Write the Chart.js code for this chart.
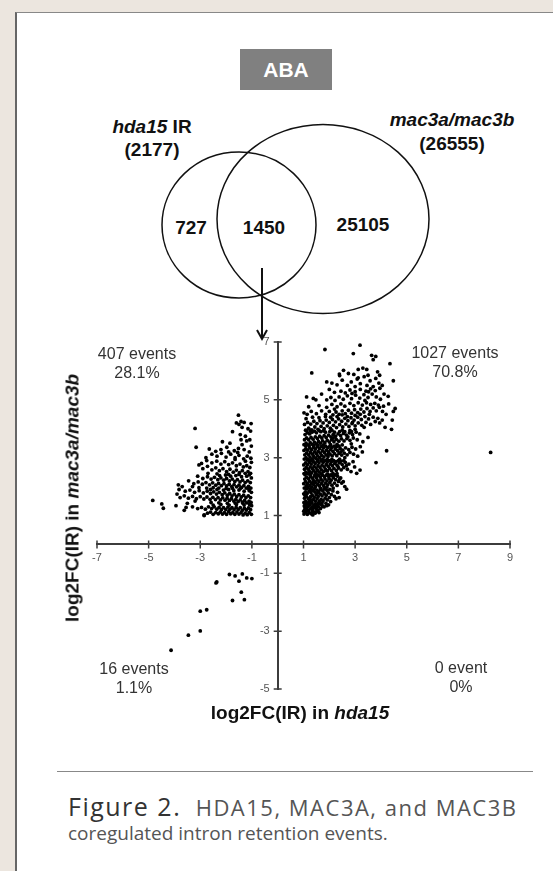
<!DOCTYPE html>
<html>
<head>
<meta charset="utf-8">
<script src="https://cdn.jsdelivr.net/npm/chart.js@4.4.0/dist/chart.umd.min.js"></script>
<style>
  html, body { margin: 0; padding: 0; }
  body { width: 553px; height: 871px; background: #ece6df; position: relative; overflow: hidden;
         font-family: "Liberation Sans", Arial, sans-serif; color: #111; }
  #panel { position: absolute; left: 15px; top: 12px; width: 600px; height: 900px; background: #fff;
           border-left: 2px solid #666; border-top: 1px solid #888; }
  .t { position: absolute; transform: translate(-50%, -50%); white-space: nowrap; line-height: 1; }
  .venn { font-weight: bold; font-size: 19px; text-align: center; }
  .note { font-size: 16px; color: #333; text-align: center; line-height: 19px; }
  .axt { font-weight: bold; font-size: 19px; }
  #aba { position: absolute; left: 240px; top: 49px; width: 92px; height: 41px; background: #808080;
         color: #fff; font-weight: bold; font-size: 21px; line-height: 41px; text-align: center; }
  #rule { position: absolute; left: 57px; top: 771px; width: 476px; height: 0; border-top: 1px solid #888; }
  .cap { position: absolute; left: 68px; font-family: "Open Sans", sans-serif; color: #555; white-space: nowrap; line-height: 30px; }
  .cap1 { font-size: 22px; letter-spacing: 1.5px; }
  .cap2 { font-size: 19px; }
  .cap b { font-weight: normal; color: #333; font-size: 25px; letter-spacing: 1.5px; }
  #wrap { position: absolute; left: 0; top: 320px; width: 553px; height: 420px; }
</style>
</head>
<body>
<div id="panel"></div>

<div id="aba">ABA</div>
<svg width="553" height="345" style="position:absolute;left:0;top:0">
  <ellipse cx="239" cy="225" rx="77" ry="73" fill="none" stroke="#111" stroke-width="1.5"/>
  <ellipse cx="323" cy="219" rx="106" ry="94.5" fill="none" stroke="#111" stroke-width="1.5"/>
  <line x1="262" y1="268" x2="262" y2="337" stroke="#111" stroke-width="2"/>
  <polyline points="257,330 262,339 267,330" fill="none" stroke="#111" stroke-width="2"/>
</svg>
<div class="t venn" style="left:152px;top:126px"><i>hda15</i> IR</div>
<div class="t venn" style="left:152px;top:149px">(2177)</div>
<div class="t venn" style="left:452px;top:119px"><i>mac3a/mac3b</i></div>
<div class="t venn" style="left:452px;top:143px">(26555)</div>
<div class="t venn" style="left:191px;top:227px">727</div>
<div class="t venn" style="left:264px;top:227px">1450</div>
<div class="t venn" style="left:363px;top:224px">25105</div>

<div id="wrap"><canvas id="scatter" width="553" height="420"></canvas></div>

<div class="t note" style="left:137px;top:363px">407 events<br>28.1%</div>
<div class="t note" style="left:455px;top:362px">1027 events<br>70.8%</div>
<div class="t note" style="left:134px;top:678px">16 events<br>1.1%</div>
<div class="t note" style="left:461px;top:677px">0 event<br>0%</div>

<div class="t axt" style="left:300px;top:712px">log2FC(IR) in <i>hda15</i></div>
<div class="t axt" style="left:72px;top:498px;transform:translate(-50%,-50%) rotate(-90deg)">log2FC(IR) in <i>mac3a/mac3b</i></div>

<div id="rule"></div>
<div class="cap cap1" style="top:791px"><b>Figure 2.</b>&nbsp; HDA15, MAC3A, and MAC3B</div>
<div class="cap cap2" style="top:818px">coregulated intron retention events.</div>

<script>
// tick positions (0 is left unlabeled on both axes)
const xTicks = [-7, -5, -3, -1, 1, 3, 5, 7, 9];
const yTicks = [-5, -3, -1, 1, 3, 5, 7];

// log2FC pairs: x (hda15), y (mac3a/mac3b)
const upperRight = [
  1.02,1.05, 1.08,1.12, 1.15,1.04, 1.22,1.1, 1.3,1.06, 1.38,1.13, 1.45,1.08, 1.52,1.15, 1.6,1.1, 1.05,1.2,
  1.12,1.26, 1.2,1.18, 1.28,1.24, 1.35,1.2, 1.42,1.28, 1.5,1.22, 1.58,1.3, 1.66,1.24, 1.74,1.32, 1.03,1.33,
  1.1,1.38, 1.18,1.31, 1.25,1.37, 1.33,1.3, 1.4,1.36, 1.47,1.4, 1.55,1.36, 1.63,1.4, 1.7,1.38, 1.8,1.3,
  1.9,1.34, 2.05,1.48, 1.01,1.15, 1.14,1.16, 1.36,1.02, 1.06,1.28, 1.24,1.45, 1.48,1.32, 1.87,1.42, 1.97,1.37,
  1.02,1.45, 1.09,1.5, 1.16,1.44, 1.23,1.52, 1.31,1.47, 1.38,1.55, 1.46,1.5, 1.53,1.58, 1.61,1.49, 1.68,1.56,
  1.76,1.51, 1.84,1.6, 1.92,1.54, 2.0,1.62, 1.04,1.6, 1.11,1.66, 1.19,1.59, 1.27,1.65, 1.34,1.7, 1.42,1.63,
  1.49,1.72, 1.57,1.66, 1.65,1.74, 1.72,1.68, 1.8,1.76, 1.88,1.7, 1.96,1.78, 2.08,1.72, 2.2,1.66, 2.32,1.8,
  1.01,1.75, 1.07,1.82, 1.14,1.76, 1.22,1.84, 1.29,1.79, 1.37,1.87, 1.44,1.81, 1.52,1.88, 1.59,1.83, 1.67,1.9,
  1.75,1.85, 1.83,1.92, 1.91,1.87, 2.02,1.9, 2.14,1.85, 2.26,1.58, 1.06,1.7, 1.26,1.56, 1.55,1.78, 2.38,1.62,
  1.03,1.95, 1.1,2.02, 1.17,1.96, 1.25,2.04, 1.32,1.98, 1.4,2.06, 1.47,2.0, 1.55,2.08, 1.62,2.02, 1.7,2.1,
  1.78,2.04, 1.86,2.12, 1.94,2.06, 2.02,2.14, 2.1,2.05, 2.2,2.12, 2.3,2.04, 1.01,2.1, 1.08,2.17, 1.15,2.11,
  1.23,2.19, 1.3,2.13, 1.38,2.21, 1.45,2.15, 1.53,2.23, 1.6,2.17, 1.68,2.25, 1.75,2.19, 1.83,2.27, 1.91,2.2,
  1.99,2.28, 2.07,2.22, 2.16,2.3, 2.25,2.24, 2.36,2.18, 2.48,2.12, 2.54,2.17, 2.67,1.91, 2.6,2.0, 1.05,2.26,
  1.12,2.32, 1.2,2.27, 1.27,2.35, 1.35,2.29, 1.42,2.37, 1.5,2.31, 1.58,2.39, 1.65,2.33, 1.73,2.4, 1.81,2.35,
  1.89,2.4, 1.97,2.36, 2.05,2.4, 2.13,2.37, 2.22,2.4, 2.32,2.36, 2.44,2.3, 1.14,2.0, 1.36,2.1, 1.9,1.98, 2.4,2.26,
  1.02,2.45, 1.09,2.5, 1.16,2.44, 1.24,2.52, 1.31,2.47, 1.39,2.55, 1.46,2.49, 1.54,2.56, 1.61,2.5, 1.69,2.58,
  1.77,2.52, 1.85,2.6, 1.93,2.54, 2.01,2.62, 2.09,2.55, 2.18,2.63, 2.27,2.56, 2.36,2.64, 2.46,2.58, 2.56,2.66,
  2.7,2.6, 2.84,2.52, 3.06,2.46, 3.19,2.57, 1.04,2.6, 1.11,2.66, 1.19,2.6, 1.26,2.68, 1.34,2.62, 1.41,2.7,
  1.49,2.64, 1.56,2.72, 1.64,2.66, 1.72,2.74, 1.8,2.68, 1.88,2.76, 1.96,2.7, 2.04,2.78, 2.12,2.72, 2.21,2.8,
  2.3,2.74, 2.4,2.82, 2.5,2.76, 2.62,2.84, 2.76,2.78, 2.92,2.86, 1.01,2.75, 1.08,2.82, 1.15,2.76, 1.23,2.84,
  1.3,2.78, 1.38,2.86, 1.45,2.8, 1.53,2.88, 1.6,2.82, 1.68,2.9, 1.76,2.84, 1.84,2.9, 1.92,2.85, 2.0,2.9,
  2.08,2.86, 2.17,2.9, 2.26,2.86, 2.35,2.9, 2.45,2.88, 2.56,2.9, 1.2,2.48, 1.5,2.42, 2.14,2.46, 2.66,2.72, 2.98,2.68,
  1.03,2.95, 1.1,3.0, 1.18,2.94, 1.25,3.02, 1.33,2.96, 1.4,3.04, 1.48,2.98, 1.55,3.06, 1.63,3.0, 1.71,3.08,
  1.79,3.02, 1.87,3.1, 1.95,3.04, 2.03,3.12, 2.11,3.06, 2.2,3.14, 2.29,3.07, 2.38,3.15, 2.48,3.09, 2.58,3.16,
  2.69,3.1, 2.8,3.18, 2.94,3.12, 3.1,3.05, 3.28,3.2, 1.05,3.1, 1.12,3.16, 1.2,3.1, 1.27,3.18, 1.35,3.12,
  1.42,3.2, 1.5,3.14, 1.57,3.22, 1.65,3.16, 1.73,3.24, 1.81,3.18, 1.89,3.26, 1.97,3.2, 2.05,3.28, 2.14,3.22,
  2.23,3.3, 2.32,3.24, 2.42,3.32, 2.52,3.26, 2.63,3.34, 2.75,3.28, 2.88,3.36, 3.02,3.3, 1.02,3.25, 1.09,3.31,
  1.16,3.26, 1.24,3.34, 1.31,3.28, 1.39,3.36, 1.46,3.3, 1.54,3.38, 1.62,3.32, 1.7,3.39, 1.78,3.34, 1.86,3.4,
  1.94,3.35, 2.02,3.4, 2.1,3.36, 2.19,3.4, 2.28,3.38, 2.38,3.4, 1.36,2.92, 1.92,2.94, 2.6,3.0, 3.2,3.38,
  1.02,3.45, 1.1,3.5, 1.18,3.44, 1.26,3.52, 1.34,3.46, 1.42,3.54, 1.5,3.48, 1.58,3.56, 1.66,3.5, 1.74,3.58,
  1.83,3.52, 1.92,3.6, 2.0,3.54, 2.09,3.62, 2.18,3.55, 2.27,3.63, 2.37,3.57, 2.47,3.65, 2.57,3.58, 2.68,3.66,
  2.8,3.6, 2.93,3.68, 3.08,3.62, 3.3,3.55, 3.5,3.7, 1.04,3.62, 1.12,3.68, 1.2,3.62, 1.29,3.7, 1.37,3.64,
  1.46,3.72, 1.54,3.66, 1.63,3.74, 1.71,3.68, 1.8,3.76, 1.88,3.7, 1.97,3.78, 2.06,3.72, 2.15,3.8, 2.24,3.74,
  2.34,3.82, 2.44,3.76, 2.55,3.84, 2.66,3.78, 2.78,3.86, 2.9,3.8, 3.04,3.88, 3.18,3.82, 1.06,3.8, 1.15,3.86,
  1.24,3.82, 1.33,3.88, 1.5,3.86, 1.67,3.9, 1.85,3.88, 2.02,3.9, 2.2,3.88, 2.4,3.9, 2.6,3.9, 1.4,3.42,
  2.3,3.46, 2.85,3.48,
  1.08,3.95, 1.2,4.02, 1.32,3.96, 1.44,4.06, 1.56,3.98, 1.68,4.08, 1.8,4.0, 1.92,4.1, 2.04,4.02, 2.16,4.12,
  2.28,4.04, 2.4,4.14, 2.52,4.06, 2.64,4.16, 2.76,4.08, 2.88,4.18, 3.0,4.1, 3.12,4.2, 3.26,4.12, 3.42,4.22,
  3.6,4.15, 3.78,4.25, 3.95,4.2, 4.16,4.05, 4.41,3.98, 4.22,3.24, 3.81,2.83, 1.04,4.15, 1.16,4.22, 1.28,4.16,
  1.4,4.26, 1.52,4.18, 1.64,4.28, 1.76,4.2, 1.88,4.3, 2.0,4.22, 2.12,4.32, 2.24,4.24, 2.36,4.34, 2.48,4.26,
  2.6,4.36, 2.72,4.28, 2.84,4.38, 2.96,4.3, 3.1,4.4, 3.24,4.32, 3.38,4.42, 3.52,4.34, 3.7,4.4, 3.88,4.36,
  4.05,4.3, 1.1,4.35, 1.35,4.4, 1.6,4.38, 1.85,4.42, 2.3,4.42, 4.44,4.3,
  1.02,4.55, 1.14,4.5, 1.3,4.6, 1.5,4.52, 1.7,4.62, 1.86,4.5, 2.0,4.6, 2.14,4.48, 2.26,4.58, 2.38,4.5,
  2.5,4.62, 2.62,4.52, 2.74,4.64, 2.86,4.54, 2.98,4.66, 3.1,4.56, 3.22,4.68, 3.34,4.58, 3.46,4.7, 3.58,4.6,
  3.7,4.72, 3.82,4.62, 3.94,4.74, 4.06,4.6, 4.2,4.5, 4.48,4.6, 4.55,4.7, 1.2,4.76, 1.6,4.8, 1.9,4.74,
  2.1,4.84, 2.3,4.76, 2.45,4.86, 2.6,4.78, 2.8,4.88, 2.95,4.8, 3.12,4.9, 3.28,4.82, 3.44,4.9, 3.6,4.84,
  3.76,4.88, 3.9,4.82, 4.1,4.78, 4.3,4.86, 2.2,4.68, 3.0,4.46,
  1.12,5.1, 1.38,5.05, 1.48,5.0, 1.9,5.0, 2.06,5.08, 2.22,4.98, 2.38,5.1, 2.54,5.02, 2.7,5.14, 2.86,5.04,
  3.02,5.16, 3.18,5.06, 3.34,5.18, 3.5,5.08, 3.66,5.2, 3.82,5.1, 3.98,5.02, 4.12,5.2, 4.28,5.12, 2.2,5.26,
  2.45,5.3, 2.62,5.24, 2.8,5.34, 3.0,5.28, 3.2,5.36, 3.42,5.3, 3.6,5.38, 3.78,5.32, 3.96,5.4, 1.7,5.2, 2.0,5.36,
  1.9,5.62, 2.1,5.58, 2.3,5.52, 2.5,5.68, 2.7,5.5, 2.85,5.62, 3.0,5.46, 3.08,5.72, 3.2,5.56, 3.35,5.8,
  3.46,5.5, 3.58,5.66, 3.7,5.46, 3.8,5.74, 3.92,5.58, 4.05,5.5, 4.48,5.66, 2.4,5.84, 2.95,5.88, 3.5,5.85,
  1.32,5.93, 3.12,5.76,
  2.39,5.89, 2.74,5.91, 3.12,6.05, 3.45,6.05, 3.87,5.97, 3.95,5.85, 4.35,6.25, 3.64,6.54, 3.8,6.5, 3.7,6.39,
  2.93,6.6, 3.19,6.89, 1.83,6.74, 3.3,6.1, 2.55,6.02,
  1.05,1.42, 1.18,1.41, 1.33,1.43, 1.57,1.42, 1.72,1.44, 1.12,1.92, 1.28,1.91, 1.43,1.93, 1.66,1.94, 1.8,1.96,
  2.15,1.95, 1.06,2.41, 1.25,2.42, 1.45,2.41, 1.7,2.44, 1.94,2.43, 2.3,2.45, 1.14,2.92, 1.28,2.9, 1.56,2.92,
  1.73,2.93, 2.1,2.94, 2.4,2.95, 1.08,3.42, 1.22,3.41, 1.56,3.43, 1.78,3.44, 2.05,3.45, 2.5,3.44, 1.12,3.93,
  1.26,3.94, 1.42,3.92, 1.6,3.94, 1.78,3.93, 2.1,3.95, 2.5,3.95, 2.8,3.94, 3.0,3.98, 1.34,1.12, 1.56,1.18,
  1.27,1.92, 1.43,2.16, 1.86,2.55, 2.33,2.7, 1.97,3.14, 2.45,3.2, 2.15,3.68, 2.72,3.72, 2.86,3.9, 2.5,4.48,
  2.7,4.42, 3.2,4.5, 3.55,4.5, 3.38,4.98, 2.88,5.22, 3.52,5.28, 2.05,4.4, 2.9,4.22, 3.35,4.05,
  8.25,3.18
];

const upperLeft = [
  -1.02,1.04, -1.1,1.1, -1.18,1.03, -1.26,1.08, -1.34,1.02, -1.42,1.1, -1.5,1.05, -1.58,1.12, -1.66,1.04, -1.74,1.1,
  -1.82,1.06, -1.9,1.13, -1.98,1.04, -2.06,1.1, -2.14,1.05, -2.22,1.12, -2.3,1.06, -2.4,1.1, -2.5,1.04, -2.6,1.12,
  -2.72,1.08, -2.85,1.02, -1.05,1.2, -1.13,1.26, -1.21,1.19, -1.29,1.25, -1.37,1.18, -1.45,1.27, -1.53,1.21, -1.61,1.28,
  -1.69,1.2, -1.77,1.27, -1.85,1.22, -1.93,1.29, -2.01,1.21, -2.1,1.27, -2.18,1.2, -2.27,1.28, -2.36,1.22, -2.46,1.3,
  -2.56,1.24, -2.68,1.3, -2.8,1.22, -2.95,1.28, -3.1,1.24, -3.3,1.3, -3.55,1.28, -3.94,1.34, -4.43,1.25, -4.49,1.4,
  -4.84,1.52, -3.62,1.18, -1.01,1.34, -1.09,1.38, -1.3,1.36, -1.6,1.38, -1.88,1.36, -2.2,1.38, -2.5,1.36, -2.85,1.0,
  -1.03,1.45, -1.11,1.5, -1.2,1.44, -1.28,1.52, -1.36,1.46, -1.45,1.54, -1.53,1.48, -1.62,1.56, -1.7,1.5, -1.79,1.58,
  -1.87,1.52, -1.96,1.6, -2.04,1.53, -2.13,1.61, -2.22,1.54, -2.31,1.62, -2.41,1.55, -2.51,1.63, -2.62,1.56, -2.74,1.64,
  -2.86,1.57, -3.0,1.65, -3.15,1.58, -3.3,1.66, -3.46,1.6, -3.62,1.68, -3.78,1.62, -3.9,1.74, -1.05,1.62, -1.14,1.68,
  -1.23,1.62, -1.32,1.7, -1.41,1.64, -1.5,1.72, -1.59,1.66, -1.68,1.74, -1.77,1.68, -1.86,1.76, -1.95,1.7, -2.05,1.78,
  -2.15,1.72, -2.26,1.8, -2.37,1.74, -2.48,1.82, -2.6,1.76, -2.73,1.84, -2.88,1.78, -3.04,1.86, -3.22,1.8, -3.4,1.88,
  -3.58,1.84, -3.82,1.9, -1.02,1.8, -1.1,1.86, -1.3,1.84, -1.5,1.88, -1.7,1.86, -1.9,1.9, -2.1,1.88, -2.35,1.9, -2.6,1.9,
  -1.04,1.95, -1.13,2.01, -1.22,1.95, -1.31,2.03, -1.4,1.97, -1.5,2.05, -1.59,1.99, -1.69,2.07, -1.78,2.0, -1.88,2.08,
  -1.98,2.02, -2.08,2.1, -2.18,2.03, -2.29,2.11, -2.4,2.05, -2.52,2.13, -2.64,2.06, -2.78,2.14, -2.92,2.08, -3.08,2.16,
  -3.25,2.1, -3.45,2.2, -3.7,2.0, -3.85,2.06, -1.06,2.14, -1.16,2.2, -1.26,2.14, -1.36,2.22, -1.46,2.16, -1.56,2.24,
  -1.66,2.18, -1.76,2.26, -1.87,2.2, -1.98,2.28, -2.09,2.22, -2.2,2.3, -2.32,2.24, -2.45,2.32, -2.58,2.26, -2.72,2.34,
  -2.9,2.28, -3.1,2.36, -1.02,2.3, -1.2,2.36, -1.4,2.34, -1.62,2.38, -1.82,2.36, -2.02,2.4, -2.25,2.38,
  -1.05,2.46, -1.15,2.52, -1.26,2.46, -1.37,2.55, -1.48,2.48, -1.6,2.57, -1.72,2.5, -1.85,2.6, -1.98,2.52, -2.12,2.62,
  -2.26,2.55, -2.4,2.65, -2.55,2.58, -2.72,2.7, -2.9,2.62, -3.05,2.75, -1.08,2.66, -1.2,2.72, -1.33,2.68, -1.46,2.78,
  -1.6,2.72, -1.75,2.82, -1.9,2.76, -2.05,2.86, -2.2,2.78, -2.36,2.88, -2.55,2.82, -2.75,2.9, -1.02,2.84, -1.25,2.88, -2.95,2.8,
  -1.04,2.98, -1.18,3.05, -1.32,2.96, -1.5,3.08, -1.65,3.0, -1.82,3.12, -2.0,3.02, -2.18,3.15, -2.35,3.05, -2.55,3.12,
  -2.78,3.0, -2.4,3.22, -1.1,3.2, -1.3,3.28, -1.52,3.32, -1.68,3.24, -1.97,3.36, -2.14,3.55, -2.2,3.28, -3.16,3.36,
  -1.02,3.4, -1.38,3.45, -1.85,3.5, -2.65,3.3, -1.2,3.58,
  -1.08,3.62, -1.25,3.74, -1.45,3.8, -1.05,3.92, -1.38,4.05, -1.6,4.2, -1.5,4.15, -1.42,4.25, -1.3,4.22, -1.03,4.18,
  -1.52,4.47, -3.2,4.01, -1.75,3.9, -1.15,4.0,
  -1.08,1.41, -1.35,1.42, -1.65,1.43, -1.95,1.42, -2.28,1.44, -2.58,1.45, -1.12,1.92, -1.45,1.93, -1.75,1.94, -2.0,1.93,
  -2.28,1.95, -2.5,1.96, -2.75,1.95, -1.1,2.41, -1.5,2.42, -1.9,2.42, -2.35,2.44, -2.7,2.46, -3.2,1.5, -3.5,1.42,
  -3.05,1.96, -3.3,2.0, -1.55,3.18, -1.9,3.2, -1.42,3.62, -1.65,2.94
];

const lowerLeft = [
  -1.87,-1.04, -1.65,-1.09, -1.37,-1.02, -1.5,-1.27, -1.2,-1.16, -1.0,-1.18, -2.39,-1.33, -2.36,-1.3,
  -1.41,-1.65, -1.75,-1.94, -1.29,-1.91, -3.0,-2.31, -2.75,-2.26, -3.46,-3.14, -3.0,-2.99, -4.13,-3.66
];

const lowerRight = [];

function toPoints(flat) {
  const pts = [];
  for (let i = 0; i < flat.length; i += 2) pts.push({ x: flat[i], y: flat[i + 1] });
  return pts;
}

const dotStyle = {
  pointRadius: 1.9,
  pointHoverRadius: 1.9,
  pointBorderWidth: 0,
  pointBackgroundColor: "#000",
  showLine: false,
};

const axisColor = "#3c3c3c";
const tickFont = "11px 'Liberation Sans', Arial, sans-serif";

// tick marks crossing the axis line, plus the y labels left of the axis
const crossTicks = {
  id: "crossTicks",
  afterDraw(chart) {
    const { ctx, scales: { x, y } } = chart;
    const x0 = x.getPixelForValue(0);
    const y0 = y.getPixelForValue(0);
    ctx.save();
    ctx.strokeStyle = axisColor;
    ctx.lineWidth = 1.5;
    ctx.beginPath();
    xTicks.forEach((v) => {
      const px = x.getPixelForValue(v);
      ctx.moveTo(px, y0 - 4);
      ctx.lineTo(px, y0 + 4);
    });
    yTicks.forEach((v) => {
      const py = y.getPixelForValue(v);
      ctx.moveTo(x0 - 4, py);
      ctx.lineTo(x0 + 4, py);
    });
    ctx.stroke();
    ctx.fillStyle = "#555";
    ctx.font = tickFont;
    ctx.textAlign = "right";
    ctx.textBaseline = "middle";
    yTicks.forEach((v) => {
      ctx.fillText(String(v), x0 - 8, y.getPixelForValue(v));
    });
    ctx.restore();
  },
};

new Chart(document.getElementById("scatter"), {
  type: "scatter",
  data: {
    datasets: [
      { label: "up/up", data: toPoints(upperRight), ...dotStyle },
      { label: "down/up", data: toPoints(upperLeft), ...dotStyle },
      { label: "down/down", data: toPoints(lowerLeft), ...dotStyle },
      { label: "up/down", data: toPoints(lowerRight), ...dotStyle },
    ],
  },
  options: {
    responsive: false,
    animation: false,
    layout: { padding: { left: 97, right: 43, top: 22, bottom: 51 } },
    plugins: { legend: { display: false }, tooltip: { enabled: false } },
    scales: {
      x: {
        type: "linear",
        min: -7,
        max: 9,
        position: { y: 0 },
        afterBuildTicks: (axis) => { axis.ticks = xTicks.map((v) => ({ value: v })); },
        grid: { drawOnChartArea: false, drawTicks: false },
        border: { display: true, color: axisColor, width: 2 },
        ticks: { autoSkip: false, maxRotation: 0, padding: 7, color: "#555",
                 font: { family: "Liberation Sans", size: 11 } },
      },
      y: {
        type: "linear",
        min: -5,
        max: 7,
        position: { x: 0 },
        afterBuildTicks: (axis) => { axis.ticks = yTicks.map((v) => ({ value: v })); },
        grid: { drawOnChartArea: false, drawTicks: false },
        border: { display: true, color: axisColor, width: 2 },
        ticks: { display: false },
      },
    },
  },
  plugins: [crossTicks],
});
</script>
</body>
</html>
